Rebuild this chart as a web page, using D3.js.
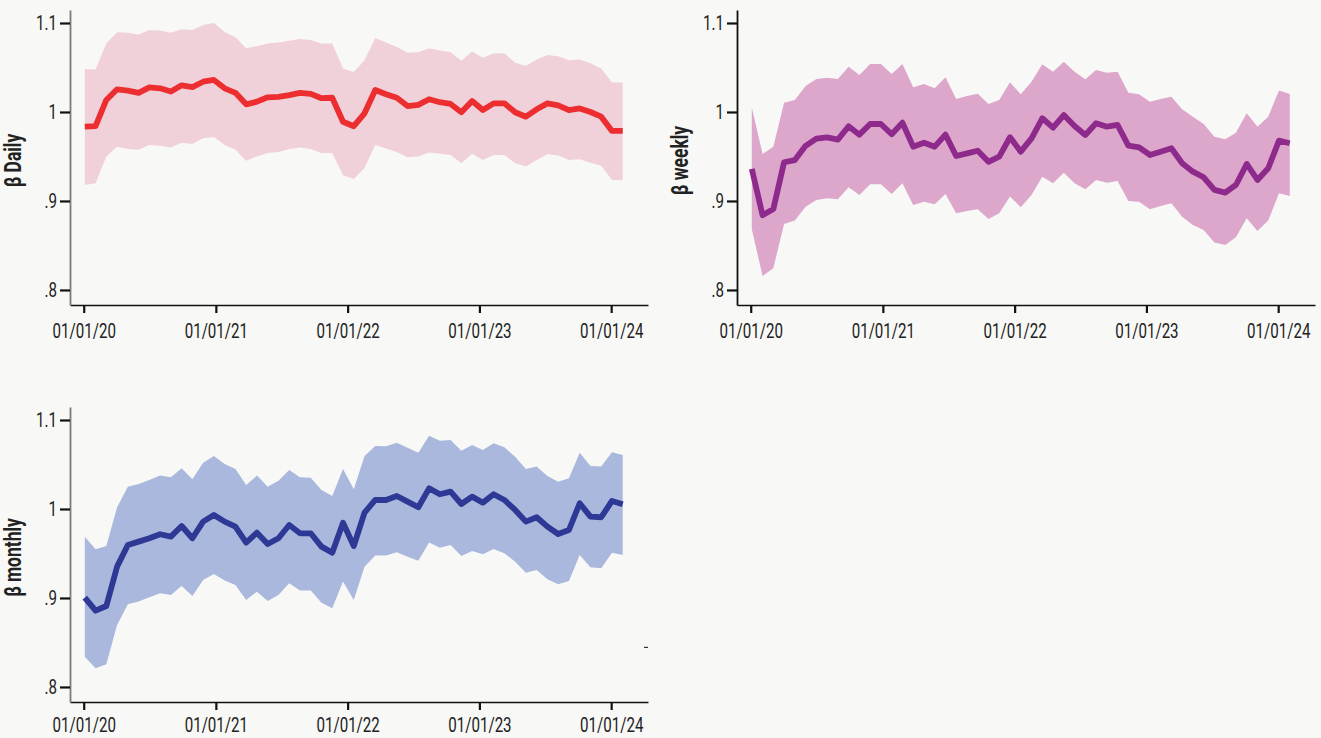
<!DOCTYPE html>
<html><head><meta charset="utf-8">
<script src="https://cdn.jsdelivr.net/npm/d3@7"></script>
<style>
html,body{margin:0;padding:0;background:#f8f8f6;}
svg{display:block;}
text{font-family:Roboto,'Liberation Sans',sans-serif;fill:#222;}
</style></head><body>
<svg id="chart" width="1321" height="738"></svg>
<script>
// Estimation window: first and last period end dates (evenly spaced periods)
const firstDate = new Date(2020, 0, 4);
const lastDate = new Date(2024, 1, 2);

// Beta estimated from daily returns, with confidence band
const dailyBeta = [0.9835,0.984,1.0135,1.0255,1.024,1.0215,1.0277,1.0266,1.023,1.030,1.028,1.034,1.036,1.0266,1.0215,1.0086,1.0116,1.0165,1.017,1.019,1.0215,1.0203,1.0155,
  1.016,0.989,0.984,0.9985,1.0247,1.020,1.016,1.0067,1.008,1.0143,1.011,1.009,0.9997,1.0124,1.0022,1.0097,1.0097,0.9997,0.9947,1.003,1.0097,1.0075,1.002,1.004,1.000,0.9947,0.9787,0.9787];
const dailyUpper = [1.048,1.048,1.077,1.0895,1.089,1.087,1.092,1.0915,1.089,1.093,1.092,1.0978,1.100,1.090,1.084,1.0716,1.074,1.077,1.078,1.080,1.082,1.081,1.077,
  1.077,1.049,1.045,1.058,1.083,1.078,1.073,1.0667,1.067,1.0716,1.069,1.067,1.0577,1.068,1.061,1.066,1.066,1.0554,1.052,1.059,1.064,1.0625,1.058,1.059,1.0548,1.049,1.033,1.033];
const dailyLower = [0.918,0.920,0.950,0.961,0.9585,0.9575,0.963,0.962,0.960,0.9655,0.964,0.9704,0.972,0.963,0.9575,0.9453,0.950,0.954,0.955,0.9585,0.960,0.9585,0.954,
  0.954,0.929,0.9247,0.937,0.963,0.959,0.955,0.949,0.950,0.9545,0.953,0.9517,0.9424,0.953,0.946,0.9517,0.9517,0.9424,0.9386,0.946,0.9525,0.951,0.946,0.947,0.943,0.9397,0.9236,0.9236];

// Beta estimated from weekly returns
const weeklyBeta = [0.936,0.884,0.891,0.9435,0.946,0.962,0.970,0.9715,0.969,0.984,0.9745,0.9865,0.9865,0.975,0.988,0.961,0.9655,0.961,0.9745,0.9505,0.9535,0.9565,0.944,
  0.9498,0.9716,0.9554,0.9704,0.9929,0.9824,0.9966,0.9843,0.9742,0.9873,0.9835,0.9854,0.9622,0.9603,0.9517,0.9554,0.9592,0.9424,0.9329,0.9266,0.9124,0.9094,0.918,0.9416,0.9236,0.9367,0.9678,0.9648];
const weeklyUpper = [1.0049,0.9528,0.961,1.0105,1.0135,1.0292,1.0371,1.0386,1.0371,1.0509,1.0416,1.0539,1.0539,1.0427,1.0539,1.0277,1.0315,1.0266,1.039,1.0146,1.018,1.0206,1.009,
  1.0135,1.0333,1.0199,1.034,1.0536,1.0453,1.0565,1.0453,1.0367,1.0472,1.0442,1.0453,1.0217,1.0199,1.0116,1.0146,1.0172,1.003,0.9947,0.9865,0.9723,0.9693,0.9767,0.9985,0.9835,0.9947,1.024,1.0202];
const weeklyLower = [0.8682,0.8157,0.8244,0.8742,0.878,0.8936,0.9011,0.903,0.902,0.9154,0.9067,0.9187,0.9187,0.9079,0.9199,0.8955,0.8992,0.8963,0.9079,0.8862,0.8888,0.8907,0.8798,
  0.8862,0.9049,0.893,0.9067,0.9273,0.9199,0.9318,0.9199,0.9131,0.9236,0.9206,0.9225,0.9,0.899,0.8907,0.8944,0.8974,0.8824,0.873,0.8674,0.8532,0.8506,0.8592,0.8806,0.8663,0.878,0.9086,0.9056];

// Beta estimated from monthly returns
const monthlyBeta = [0.9003,0.8857,0.891,0.9352,0.9596,0.9633,0.9671,0.9716,0.9689,0.9809,0.9671,0.9858,0.9933,0.9858,0.9801,0.9622,0.9734,0.9607,0.9671,0.982,0.9727,0.9727,0.9577,
  0.9509,0.9846,0.9584,0.9959,1.0101,1.0101,1.0146,1.0082,1.0019,1.0232,1.0165,1.0195,1.0056,1.0139,1.0071,1.0165,1.0101,0.9989,0.9858,0.9907,0.9801,0.9719,0.9764,1.0064,0.9914,0.9907,1.009,1.0053];
const monthlyUpper = [0.9689,0.9547,0.9584,1.0019,1.0251,1.0281,1.0326,1.0375,1.0356,1.0457,1.0334,1.052,1.0596,1.0506,1.0449,1.027,1.0375,1.0251,1.0318,1.0438,1.0356,1.0352,1.0213,
  1.0146,1.0449,1.0221,1.0596,1.0708,1.0704,1.0745,1.0689,1.0633,1.0824,1.0768,1.0775,1.0655,1.0719,1.0663,1.0738,1.0693,1.0588,1.0449,1.0476,1.0371,1.0307,1.0345,1.0633,1.0483,1.0476,1.0637,1.0607];
const monthlyLower = [0.834,0.821,0.8255,0.8697,0.8929,0.8959,0.9008,0.9053,0.9034,0.9135,0.9022,0.9202,0.927,0.9195,0.9146,0.8978,0.9071,0.8966,0.9034,0.9165,0.9083,0.9083,0.8947,
  0.8884,0.9184,0.8978,0.9352,0.9476,0.9476,0.9513,0.9464,0.9419,0.9622,0.9565,0.9596,0.9472,0.9528,0.9491,0.955,0.9502,0.9408,0.9284,0.9315,0.921,0.9154,0.9191,0.9483,0.9345,0.9334,0.9509,0.9483];

const xTickDates = ["2020-01-01","2021-01-01","2022-01-01","2023-01-01","2024-01-01"];
const xTickLabels = ["01/01/20","01/01/21","01/01/22","01/01/23","01/01/24"];
const yTickValues = [0.8, 0.9, 1.0, 1.1];
const yTickLabels = [".8", ".9", "1", "1.1"];
const axisTitles = ["β Daily", "β weekly", "β  monthly"];

const svg = d3.select("#chart");
const parse = d3.timeParse("%Y-%m-%d");

// horizontal squeeze that gives the narrow lettering
const SQ = 0.72;
const SQ_TITLE = 0.76;

const n = dailyBeta.length;
const periodIndex = d3.scaleLinear().domain([0, n - 1]).range([firstDate, lastDate]);
const dates = d3.range(n).map(i => new Date(periodIndex(i)));

const panels = [
  {left: 70, top: 10, mid: dailyBeta, hi: dailyUpper, lo: dailyLower, line: "#ec2e30", band: "#f0d1da", yAxisColor: "#7a7a7a", title: axisTitles[0], pad: 10},
  {left: 737, top: 10, mid: weeklyBeta, hi: weeklyUpper, lo: weeklyLower, line: "#8e2a8c", band: "#dda7cb", yAxisColor: "#111", title: axisTitles[1], pad: 10},
  {left: 70, top: 407, mid: monthlyBeta, hi: monthlyUpper, lo: monthlyLower, line: "#2e3895", band: "#aab8dd", yAxisColor: "#7a7a7a", title: axisTitles[2], pad: 7, stray: true}
];
const W = 578, H = 295;

panels.forEach(p => {
  const g = svg.append("g").attr("transform", `translate(${p.left},${p.top})`);
  const x = d3.scaleTime()
    .domain([d3.timeDay.offset(parse("2020-01-01"), -38), d3.timeDay.offset(parse("2024-01-01"), 102)])
    .range([0, W]);
  const y = d3.scaleLinear().domain([0.7831, 1.1146]).range([H, 0]);

  const rows = dates.map((d, i) => ({d, m: p.mid[i], hi: p.hi[i], lo: p.lo[i]}));

  g.append("path").datum(rows)
    .attr("fill", p.band)
    .attr("d", d3.area().x(r => x(r.d)).y0(r => y(r.lo)).y1(r => y(r.hi)));

  g.append("path").datum(rows)
    .attr("fill", "none").attr("stroke", p.line).attr("stroke-width", 5.8)
    .attr("stroke-linejoin", "round")
    .attr("d", d3.line().x(r => x(r.d)).y(r => y(r.m)));

  // x axis
  const xa = g.append("g").attr("transform", `translate(0,${H})`)
    .call(d3.axisBottom(x).tickValues(xTickDates.map(parse)).tickSize(8).tickSizeOuter(0)
      .tickFormat((d, i) => xTickLabels[i]).tickPadding(p.pad));
  xa.select(".domain").attr("stroke", "#111").attr("stroke-width", 1.6);
  xa.selectAll(".tick line").attr("stroke", "#111").attr("stroke-width", 2.2);
  xa.selectAll(".tick text").attr("font-size", 21).attr("fill", "#222")
    .attr("font-family", "Roboto, sans-serif")
    .attr("transform", `scale(${SQ},1)`);

  // y axis
  const ya = g.append("g")
    .call(d3.axisLeft(y).tickValues(yTickValues).tickSize(10).tickSizeOuter(0)
      .tickFormat((d, i) => yTickLabels[i]).tickPadding(3));
  ya.select(".domain").attr("stroke", p.yAxisColor).attr("stroke-width", 1.8);
  ya.selectAll(".tick line").attr("stroke", "#111").attr("stroke-width", 2.2);
  ya.selectAll(".tick text").attr("font-size", 21).attr("fill", "#222")
    .attr("font-family", "Roboto, sans-serif")
    .attr("x", -13 / SQ)
    .attr("transform", `scale(${SQ},1)`);

  g.append("text")
    .attr("transform", `translate(${-49},${H / 2 + 3}) rotate(-90) scale(${SQ_TITLE},1)`)
    .attr("text-anchor", "middle")
    .attr("font-size", 23).attr("font-weight", "bold").attr("fill", "#111")
    .text(p.title);

  if (p.stray) {
    const ra = g.append("g").attr("transform", `translate(${W},0)`)
      .call(d3.axisLeft(y).tickValues([0.845]).tickSize(4).tickFormat(""));
    ra.select(".domain").remove();
    ra.selectAll(".tick line").attr("stroke", "#333").attr("stroke-width", 1.2);
  }
});
</script>
</body></html>
